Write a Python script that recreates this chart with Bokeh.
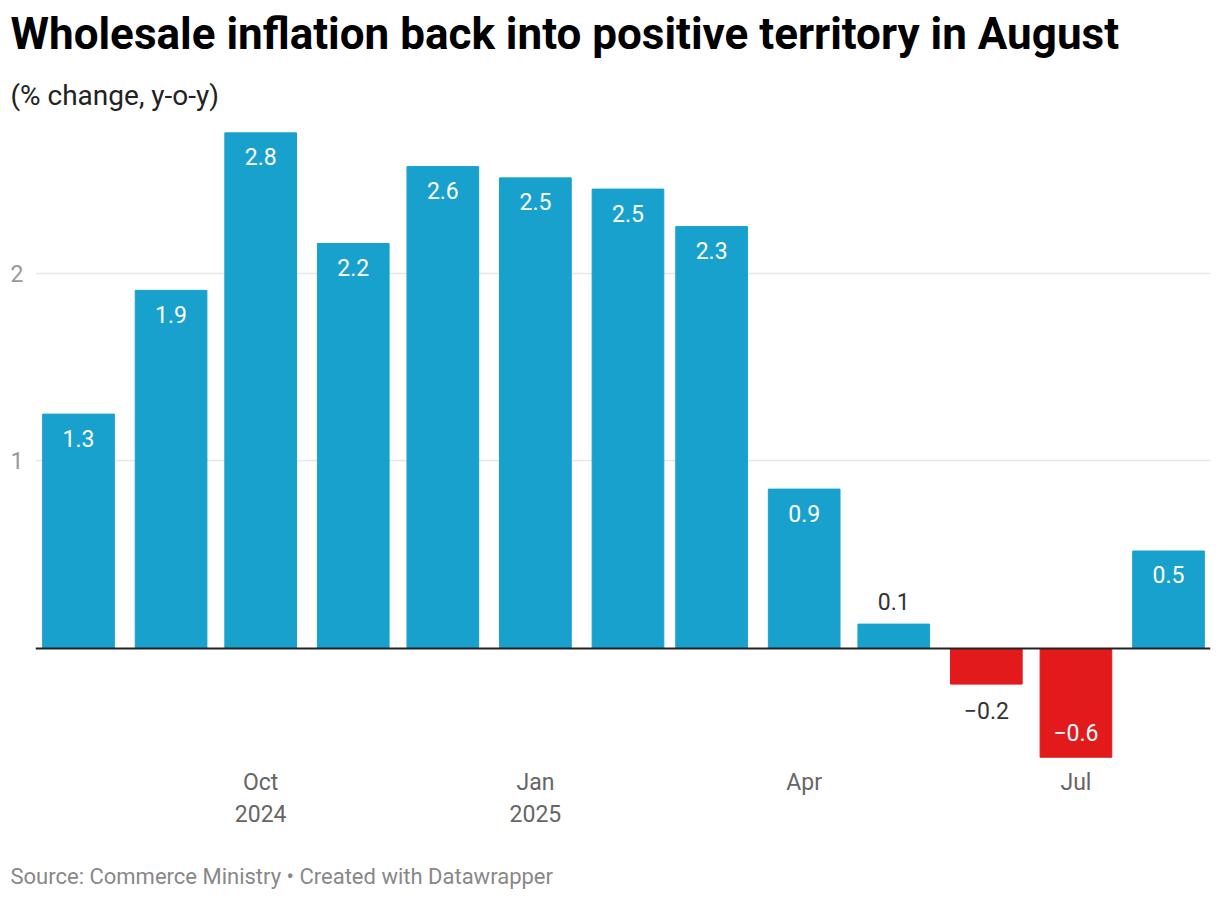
from decimal import Decimal, ROUND_HALF_UP
import pandas as pd
from bokeh.plotting import figure
from bokeh.models import ColumnDataSource, Range1d, FixedTicker, Span, Title
from bokeh.core.properties import value
from bokeh.embed import file_html
from bokeh.resources import INLINE

# ---------------- data ----------------
months = ["2024-08", "2024-09", "2024-10", "2024-11", "2024-12", "2025-01",
          "2025-02", "2025-03", "2025-04", "2025-05", "2025-06", "2025-07", "2025-08"]
inflation = [1.25, 1.91, 2.75, 2.16, 2.57, 2.51, 2.45, 2.25, 0.85, 0.13, -0.19, -0.58, 0.52]
tick_months = ["2024-10", "2025-01", "2025-04", "2025-07"]
tick_labels = ["Oct\n2024", "Jan\n2025", "Apr", "Jul"]
y_ticks = [1, 2]

title_text = "Wholesale inflation back into positive territory in August"
subtitle_text = "(% change, y-o-y)"
footer_text = "Source: Commerce Ministry \u2022 Created with Datawrapper"

BLUE = "#18a1cd"
RED = "#e31a1c"
FONT = "Roboto"
DAY = 86400000.0


def ms(m):
    return pd.Timestamp(m + "-01").value / 1e6


def fmt(v):
    s = str(Decimal(str(v)).quantize(Decimal("0.1"), rounding=ROUND_HALF_UP))
    return s.replace("-", "\u2212")


xs = [ms(m) for m in months]
inside = [abs(v) >= 0.3 for v in inflation]
yoff = []
tcol = []
for v, ins in zip(inflation, inside):
    if v >= 0:
        yoff.append(24 if ins else -23)
    else:
        yoff.append(-24.5 if ins else 26)
    tcol.append("#ffffff" if ins else "#333333")

src = ColumnDataSource(dict(
    x=xs, top=inflation,
    color=[BLUE if v >= 0 else RED for v in inflation],
    label=[fmt(v) for v in inflation],
    yoff=yoff, tcol=tcol,
))

x0 = ms(months[0])
p = figure(width=1212, height=900, output_backend="svg", toolbar_location=None,
           x_range=Range1d(x0 - 14.4 * DAY, x0 + 379.06 * DAY),
           y_range=Range1d(-0.6027, 2.8),
           frame_width=1175, frame_height=638,
           min_border_left=35, min_border_right=2, min_border_top=123, min_border_bottom=139,
           title=title_text)
p.outline_line_color = None
p.background_fill_color = "white"
p.border_fill_color = "white"

# main title (outermost)
p.title.align = "left"
p.title.offset = -25
p.title.standoff = 10
p.title.text_font = FONT
p.title.text_font_style = "bold"
p.title.text_font_size = "44px"
p.title.text_color = "#000000"

# subtitle (closest to frame)
p.add_layout(Title(text=subtitle_text, align="left", offset=-25, standoff=24,
                   text_font=FONT, text_font_style="normal", text_font_size="28px",
                   text_color="#222222"), "above")

p.vbar(x="x", top="top", bottom=0, width=24 * DAY, color="color", source=src)

p.text(x="x", y="top", text="label", y_offset="yoff", text_color="tcol",
       text_align="center", text_baseline="middle",
       text_font=value(FONT), text_font_size="23px", source=src)

zero = Span(location=0, dimension="width", line_color="#222222", line_width=2)
p.add_layout(zero)

# axes
p.xgrid.grid_line_color = None
p.ygrid.ticker = FixedTicker(ticks=y_ticks)
p.ygrid.grid_line_color = "#e6e6e6"
p.ygrid.grid_line_width = 1.5

ya = p.yaxis[0]
ya.ticker = FixedTicker(ticks=y_ticks)
ya.axis_line_color = None
ya.major_tick_line_color = None
ya.minor_tick_line_color = None
ya.major_tick_out = 0
ya.major_tick_in = 0
ya.major_label_standoff = 12
ya.major_label_text_color = "#999999"
ya.major_label_text_font = FONT
ya.major_label_text_font_size = "23px"

xa = p.xaxis[0]
tvals = [ms(m) for m in tick_months]
xa.ticker = FixedTicker(ticks=tvals)
xa.major_label_overrides = {t: l for t, l in zip(tvals, tick_labels)}
xa.axis_line_color = None
xa.major_tick_line_color = None
xa.minor_tick_line_color = None
xa.major_tick_out = 0
xa.major_tick_in = 0
xa.major_label_standoff = 7
xa.major_label_text_color = "#666666"
xa.major_label_text_font = FONT
xa.major_label_text_font_size = "23px"

# footer (leading empty line acts as spacing below the axis labels)
p.add_layout(Title(text="\n" + footer_text, align="left", offset=-25, standoff=12,
                   text_font=FONT, text_font_style="normal", text_font_size="22px",
                   text_color="#888888"), "below")

open("out.html", "w").write(file_html(p, INLINE))
